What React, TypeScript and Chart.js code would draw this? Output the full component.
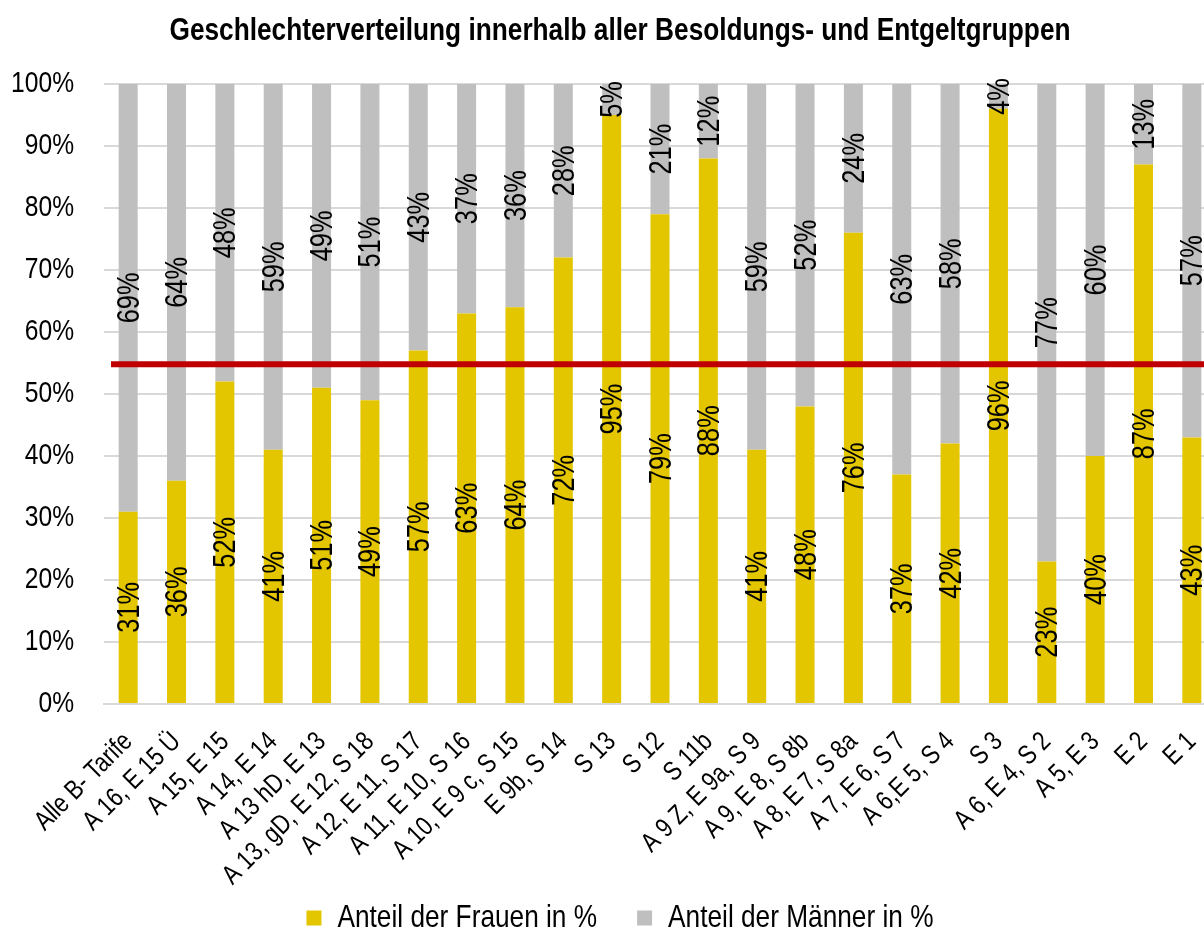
import React, { useEffect, useRef } from "react";
import { Chart, registerables } from "chart.js";

Chart.register(...registerables);

const chartTitle = "Geschlechterverteilung innerhalb aller Besoldungs- und Entgeltgruppen";

const categories = [
  "Alle B- Tarife",
  "A 16, E 15 Ü",
  "A 15, E 15",
  "A 14, E 14",
  "A 13 hD, E 13",
  "A 13, gD, E 12, S 18",
  "A 12, E 11, S 17",
  "A 11, E 10, S 16",
  "A 10, E 9 c, S 15",
  "E 9b, S 14",
  "S 13",
  "S 12",
  "S 11b",
  "A 9 Z, E 9a, S 9",
  "A 9, E 8, S 8b",
  "A 8, E 7, S 8a",
  "A 7, E 6, S 7",
  "A 6,E 5, S 4",
  "S 3",
  "A 6, E 4, S 2",
  "A 5, E 3",
  "E 2",
  "E 1",
];

const womenShare = [31, 36, 52, 41, 51, 49, 57, 63, 64, 72, 95, 79, 88, 41, 48, 76, 37, 42, 96, 23, 40, 87, 43];
const menShare = [69, 64, 48, 59, 49, 51, 43, 37, 36, 28, 5, 21, 12, 59, 52, 24, 63, 58, 4, 77, 60, 13, 57];

const referenceLine = [54.8];

const yTicks = [0, 10, 20, 30, 40, 50, 60, 70, 80, 90, 100];

const seriesNames = ["Anteil der Frauen in %", "Anteil der Männer in %"];

// Arial-metric font, compressed horizontally to imitate Arial Narrow
const FONT = '"Liberation Sans", Arial, sans-serif';
const NARROW = 0.82;
const YELLOW = "#E3C500";
const GREY = "#BFBFBF";
const RED = "#C00000";

function narrowContext(ctx: CanvasRenderingContext2D) {
  const origFill = ctx.fillText.bind(ctx);
  const origMeasure = ctx.measureText.bind(ctx);
  (ctx as any).fillText = (text: string, x: number, y: number, maxWidth?: number) => {
    ctx.save();
    ctx.translate(x, y);
    ctx.scale(NARROW, 1);
    if (maxWidth !== undefined && maxWidth !== null) origFill(text, 0, 0, maxWidth / NARROW);
    else origFill(text, 0, 0);
    ctx.restore();
  };
  (ctx as any).measureText = (text: string) => {
    const m = origMeasure(text);
    return {
      width: m.width * NARROW,
      actualBoundingBoxAscent: m.actualBoundingBoxAscent,
      actualBoundingBoxDescent: m.actualBoundingBoxDescent,
      actualBoundingBoxLeft: m.actualBoundingBoxLeft * NARROW,
      actualBoundingBoxRight: m.actualBoundingBoxRight * NARROW,
      fontBoundingBoxAscent: m.fontBoundingBoxAscent,
      fontBoundingBoxDescent: m.fontBoundingBoxDescent,
    };
  };
}

const overlayPlugin = {
  id: "overlay",
  afterLayout(chart: any) {
    // let tick labels extend beyond their axis boxes (no clipping)
    if (chart.scales.x) chart.scales.x.bottom = chart.height;
    if (chart.scales.y) chart.scales.y.left = 0;
  },
  afterDatasetsDraw(chart: any) {
    const ctx = chart.ctx;
    const { left, right } = chart.chartArea;
    const yScale = chart.scales.y;
    const ly = yScale.getPixelForValue(referenceLine[0]);
    ctx.save();
    ctx.strokeStyle = RED;
    ctx.lineWidth = 6;
    ctx.beginPath();
    ctx.moveTo(left + 7, ly);
    ctx.lineTo(right, ly);
    ctx.stroke();
    ctx.restore();
    chart.data.datasets.forEach((ds: any, di: number) => {
      const meta = chart.getDatasetMeta(di);
      meta.data.forEach((el: any, i: number) => {
        const p = el.getProps(["x", "y", "base"], true);
        const cy = (p.y + p.base) / 2;
        ctx.save();
        ctx.translate(p.x + 1, cy);
        ctx.rotate(-Math.PI / 2);
        ctx.textAlign = "center";
        ctx.textBaseline = "middle";
        ctx.fillStyle = "#000";
        ctx.font = `31px ${FONT}`;
        ctx.fillText(`${Math.round(ds.data[i])}%`, 0, 1);
        ctx.restore();
      });
    });
  },
};

export default function App() {
  const ref = useRef<HTMLCanvasElement | null>(null);
  useEffect(() => {
    if (!ref.current) return;
    const ctx = ref.current.getContext("2d") as CanvasRenderingContext2D;
    narrowContext(ctx);
    const chart = new Chart(ctx, {
      type: "bar",
      data: {
        labels: categories,
        datasets: [
          {
            label: seriesNames[0],
            data: womenShare,
            backgroundColor: YELLOW,
            barPercentage: 0.6,
            categoryPercentage: 0.655,
          },
          {
            label: seriesNames[1],
            data: menShare,
            backgroundColor: GREY,
            barPercentage: 0.6,
            categoryPercentage: 0.655,
          },
        ],
      },
      options: {
        responsive: false,
        animation: false,
        layout: { padding: { left: 24, right: 16, top: 0, bottom: 0 } },
        plugins: {
          title: {
            display: true,
            text: chartTitle,
            color: "#000",
            font: { family: FONT, size: 32, weight: "bold" },
            padding: { top: 12, bottom: 33.6 },
          },
          legend: {
            position: "bottom",
            labels: {
              color: "#000",
              font: { family: FONT, size: 32 },
              boxWidth: 15,
              boxHeight: 15,
              padding: 40,
            },
          },
          tooltip: { enabled: false },
        },
        scales: {
          x: {
            stacked: true,
            grid: { display: false, drawTicks: false },
            border: { color: "#D9D9D9", width: 2 },
            ticks: {
              color: "#000",
              font: { family: FONT, size: 27 },
              minRotation: 45,
              maxRotation: 45,
              autoSkip: false,
              padding: 22,
            },
            afterFit: (s: any) => {
              s.height = 158;
              s.paddingLeft = 0;
              s.paddingRight = 0;
            },
          },
          y: {
            stacked: true,
            min: 0,
            max: 100,
            afterBuildTicks: (s: any) => {
              s.ticks = yTicks.map((v) => ({ value: v }));
            },
            grid: { color: "#D9D9D9", lineWidth: 2, drawTicks: false },
            border: { display: false },
            ticks: {
              color: "#000",
              font: { family: FONT, size: 30 },
              padding: 30,
              callback: (v: any) => `${v}%`,
            },
            afterFit: (s: any) => {
              s.width = 80;
            },
          },
        },
      },
      plugins: [overlayPlugin],
    });
    return () => chart.destroy();
  }, []);
  return (
    <div style={{ position: "fixed", left: 0, top: 0, width: 1204, height: 931, overflow: "hidden", background: "#fff" }}>
      <canvas ref={ref} width={1232} height={944} style={{ width: 1232, height: 944, display: "block" }} />
    </div>
  );
}
